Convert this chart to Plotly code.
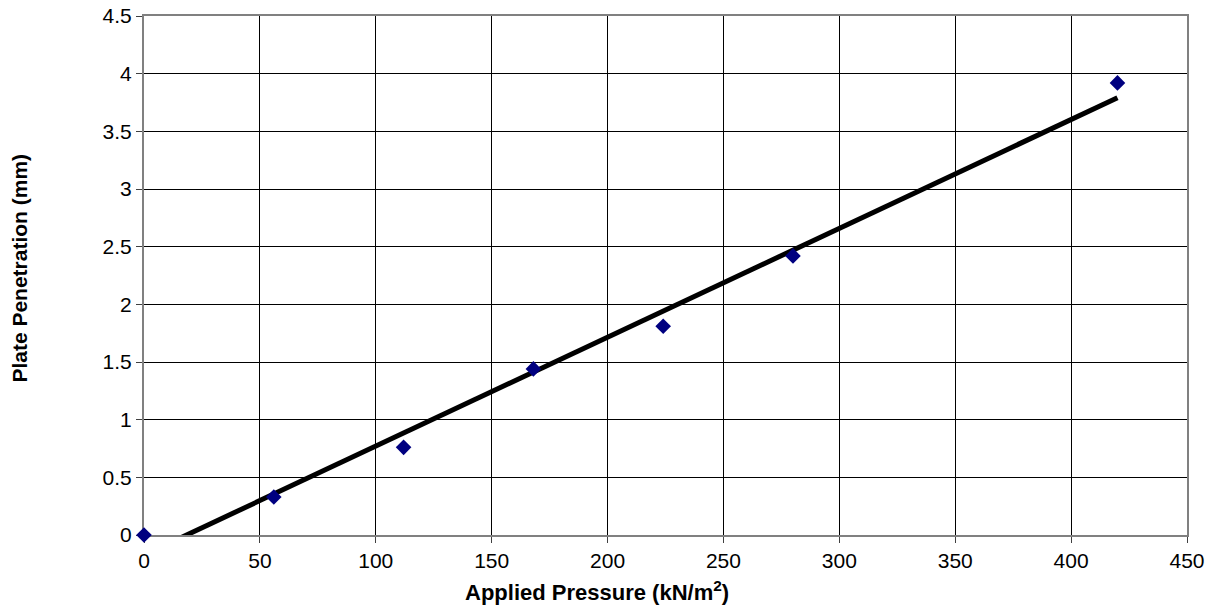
import numpy as np
import plotly.graph_objects as go

pressure = [0, 56, 112, 168, 224, 280, 420]
penetration = [0, 0.33, 0.76, 1.44, 1.81, 2.42, 3.92]

x_ticks = [0, 50, 100, 150, 200, 250, 300, 350, 400, 450]
y_ticks = [0, 0.5, 1, 1.5, 2, 2.5, 3, 3.5, 4, 4.5]
y_tick_text = ["0", "0.5", "1", "1.5", "2", "2.5", "3", "3.5", "4", "4.5"]

x_title = "<b>Applied Pressure (kN/m<sup>2</sup>)</b>"
y_title = "<b>Plate Penetration (mm)</b>"

slope, intercept = np.polyfit(pressure, penetration, 1)
trend_x = [min(pressure), max(pressure)]
trend_y = [slope * v + intercept for v in trend_x]

fig = go.Figure()
fig.add_trace(go.Scatter(
    x=trend_x, y=trend_y, mode="lines",
    line=dict(color="black", width=5),
    showlegend=False, hoverinfo="skip",
))
fig.add_trace(go.Scatter(
    x=pressure, y=penetration, mode="markers",
    marker=dict(symbol="diamond", size=12, color="#000080"),
    cliponaxis=False, showlegend=False,
))

font = "Liberation Sans, Arial, sans-serif"
fig.update_layout(
    width=1216, height=609,
    margin=dict(l=144, r=29, t=16, b=74),
    paper_bgcolor="white", plot_bgcolor="white",
    font=dict(family=font, size=21, color="black"),
)
fig.update_xaxes(
    range=[0, 450], tickvals=x_ticks, ticktext=[str(v) for v in x_ticks],
    showgrid=True, gridcolor="black", gridwidth=1,
    showline=True, linecolor="#808080", linewidth=2, mirror=True,
    ticks="outside", ticklen=6, tickcolor="#404040", tickwidth=1,
    zeroline=False, automargin=False, layer="below traces",
)
fig.update_yaxes(
    range=[0, 4.5], tickvals=y_ticks, ticktext=y_tick_text,
    showgrid=True, gridcolor="black", gridwidth=1,
    showline=True, linecolor="#808080", linewidth=2, mirror=True,
    ticks="outside", ticklen=6, tickcolor="#404040", tickwidth=1,
    zeroline=False, automargin=False, layer="below traces",
)
fig.add_annotation(
    text=x_title, xref="paper", yref="paper", x=0.434, y=-0.108,
    xanchor="center", yanchor="middle", showarrow=False,
    font=dict(size=22),
)
fig.add_annotation(
    text=y_title, xref="paper", yref="paper", x=-0.119, y=0.515,
    xanchor="center", yanchor="middle", showarrow=False, textangle=-90,
    font=dict(size=21),
)

fig.write_html("out.html", config={"displayModeBar": False},
               post_script="document.body.style.margin='0';")
